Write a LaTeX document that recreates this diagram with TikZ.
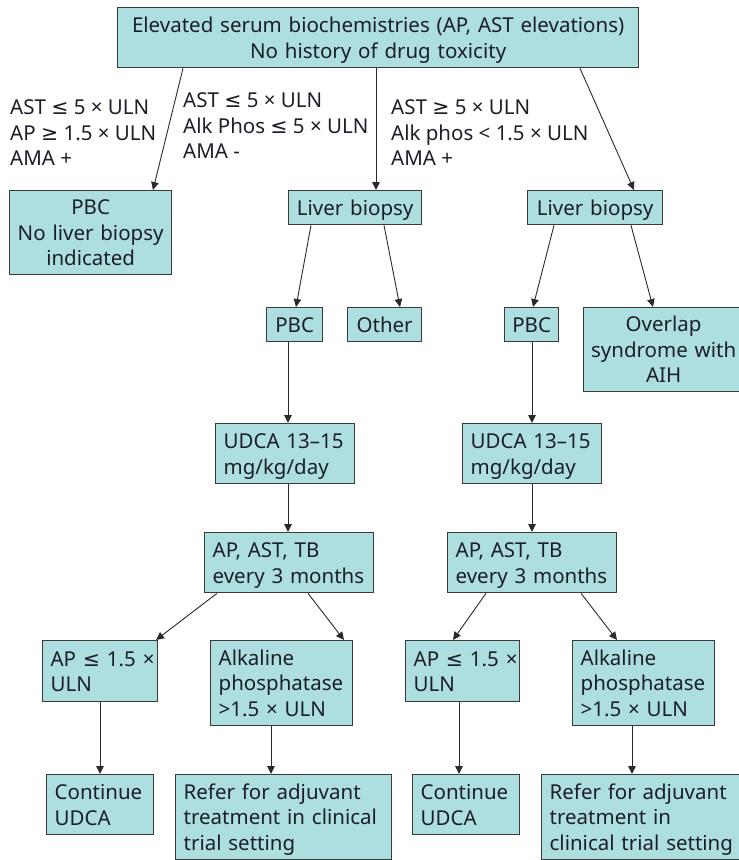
\documentclass[tikz,border=0pt]{standalone}
\usepackage{fontspec}
\setmainfont{Noto Sans}
\newfontfamily\symfamily{DejaVu Sans}
\newcommand\lesym{{\symfamily ≤}}
\newcommand\gesym{{\symfamily ≥}}
\usetikzlibrary{arrows.meta}
\definecolor{boxfill}{HTML}{AEDFE0}
\definecolor{boxline}{HTML}{3A3A3A}
\definecolor{arrowline}{HTML}{2A2A2A}
\definecolor{ink}{HTML}{1C1E28}
\newcommand\linestrut{\rule[-5pt]{0pt}{25.5pt}}
\tikzset{
  txt/.style={font=\fontsize{20.5}{25.5}\selectfont, text=ink},
  box/.style n args={3}{txt, draw=boxline, line width=1.3pt, fill=boxfill,
    anchor=north west, inner xsep=#3, inner ysep=0pt,
    minimum width=#1, minimum height=#2, text width=#1-2*#3,
    execute at begin node=\linestrut, execute at end node=\linestrut},
  cbox/.style n args={2}{box={#1}{#2}{2pt}, align=center},
  lbox/.style n args={2}{box={#1}{#2}{8pt}, align=left},
  cond/.style={txt, anchor=west, align=left, inner sep=0pt},
  flow/.style={draw=arrowline, line width=0.9pt,
    -{Triangle[length=8pt,width=7.5pt]}}
}
\begin{document}
\begin{tikzpicture}[x=1pt,y=-1pt]
\useasboundingbox (0,0) rectangle (739,860);
\clip (0,0) rectangle (739,860);

% boxes, placed by their top-left corners
\node[cbox={521pt}{60pt}] (top) at (117,7)
  {Elevated serum biochemistries (AP, AST elevations)\\No history of drug toxicity};
\node[cbox={162pt}{84pt}] (pbcA) at (9,190) {PBC\\No~liver~biopsy\\indicated};
\node[cbox={133pt}{34pt}] (lbM) at (288,190) {Liver~biopsy};
\node[cbox={135pt}{34pt}] (lbR) at (527,190) {Liver~biopsy};
\node[cbox={56pt}{34pt}] (pbcM) at (266,307) {PBC};
\node[cbox={74pt}{34pt}] (other) at (347,307) {Other};
\node[cbox={54pt}{34pt}] (pbcR) at (504,307) {PBC};
\node[cbox={160pt}{84pt}] (overlap) at (583,307) {Overlap\\syndrome~with\\AIH};
\node[lbox={139pt}{60pt}] (udcaM) at (215,423) {UDCA~13–15\\mg/kg/day};
\node[lbox={139pt}{60pt}] (udcaR) at (462,423) {UDCA~13–15\\mg/kg/day};
\node[lbox={169pt}{60pt}] (apM) at (204,532) {AP,~AST,~TB\\every~3~months};
\node[lbox={169pt}{60pt}] (apR) at (447,532) {AP,~AST,~TB\\every~3~months};
\node[lbox={115pt}{61pt}] (le1) at (42,640) {AP~\lesym~1.5~×\\ULN};
\node[lbox={142pt}{85pt}] (alk1) at (210,640) {Alkaline\\phosphatase\\>1.5~×~ULN};
\node[lbox={114pt}{61pt}] (le2) at (405,640) {AP~\lesym~1.5~×\\ULN};
\node[lbox={142pt}{85pt}] (alk2) at (572,640) {Alkaline\\phosphatase\\>1.5~×~ULN};
\node[lbox={107pt}{60pt}] (cont1) at (46,774) {Continue\\UDCA};
\node[lbox={216pt}{85pt}] (ref1) at (175,774) {Refer~for~adjuvant\\treatment~in~clinical\\trial~setting};
\node[lbox={107pt}{60pt}] (cont2) at (412,774) {Continue\\UDCA};
\node[lbox={204pt}{85pt}] (ref2) at (541,774) {Refer~for~adjuvant\\treatment~in\\clinical~trial~setting};

% branch conditions
\node[cond] (c1) at (10,133) {AST \lesym{} 5 × ULN\\AP \gesym{} 1.5 × ULN\\AMA +};
\node[cond] (c2) at (183,126) {AST \lesym{} 5 × ULN\\Alk Phos \lesym{} 5 × ULN\\AMA -};
\node[cond] (c3) at (391,133) {AST \gesym{} 5 × ULN\\Alk phos < 1.5 × ULN\\AMA +};

% connectors
\draw[flow] ([xshift=66pt]top.south west) -- ([xshift=144pt]pbcA.north west);
\draw[flow] ([xshift=259pt]top.south west) -- ([xshift=88pt]lbM.north west);
\draw[flow] ([xshift=463pt]top.south west) -- ([xshift=107pt]lbR.north west);
\draw[flow] ([xshift=23pt]lbM.south west) -- ([xshift=30pt]pbcM.north west);
\draw[flow] ([xshift=96pt]lbM.south west) -- ([xshift=53pt]other.north west);
\draw[flow] ([xshift=27pt]lbR.south west) -- ([xshift=29pt]pbcR.north west);
\draw[flow] ([xshift=104pt]lbR.south west) -- ([xshift=70pt]overlap.north west);
\draw[flow] ([xshift=22pt]pbcM.south west) -- ([xshift=73pt]udcaM.north west);
\draw[flow] ([xshift=28pt]pbcR.south west) -- ([xshift=70pt]udcaR.north west);
\draw[flow] ([xshift=73pt]udcaM.south west) -- ([xshift=84pt]apM.north west);
\draw[flow] ([xshift=70pt]udcaR.south west) -- ([xshift=85pt]apR.north west);
\draw[flow] ([xshift=13pt]apM.south west) -- ([xshift=114pt]le1.north west);
\draw[flow] ([xshift=104pt]apM.south west) -- ([xshift=134pt]alk1.north west);
\draw[flow] ([xshift=39pt]apR.south west) -- ([xshift=48pt]le2.north west);
\draw[flow] ([xshift=134pt]apR.south west) -- ([xshift=45pt]alk2.north west);
\draw[flow] ([xshift=58pt]le1.south west) -- ([xshift=54pt]cont1.north west);
\draw[flow] ([xshift=61pt]alk1.south west) -- ([xshift=96pt]ref1.north west);
\draw[flow] ([xshift=54pt]le2.south west) -- ([xshift=47pt]cont2.north west);
\draw[flow] ([xshift=60pt]alk2.south west) -- ([xshift=91pt]ref2.north west);
\end{tikzpicture}
\end{document}
